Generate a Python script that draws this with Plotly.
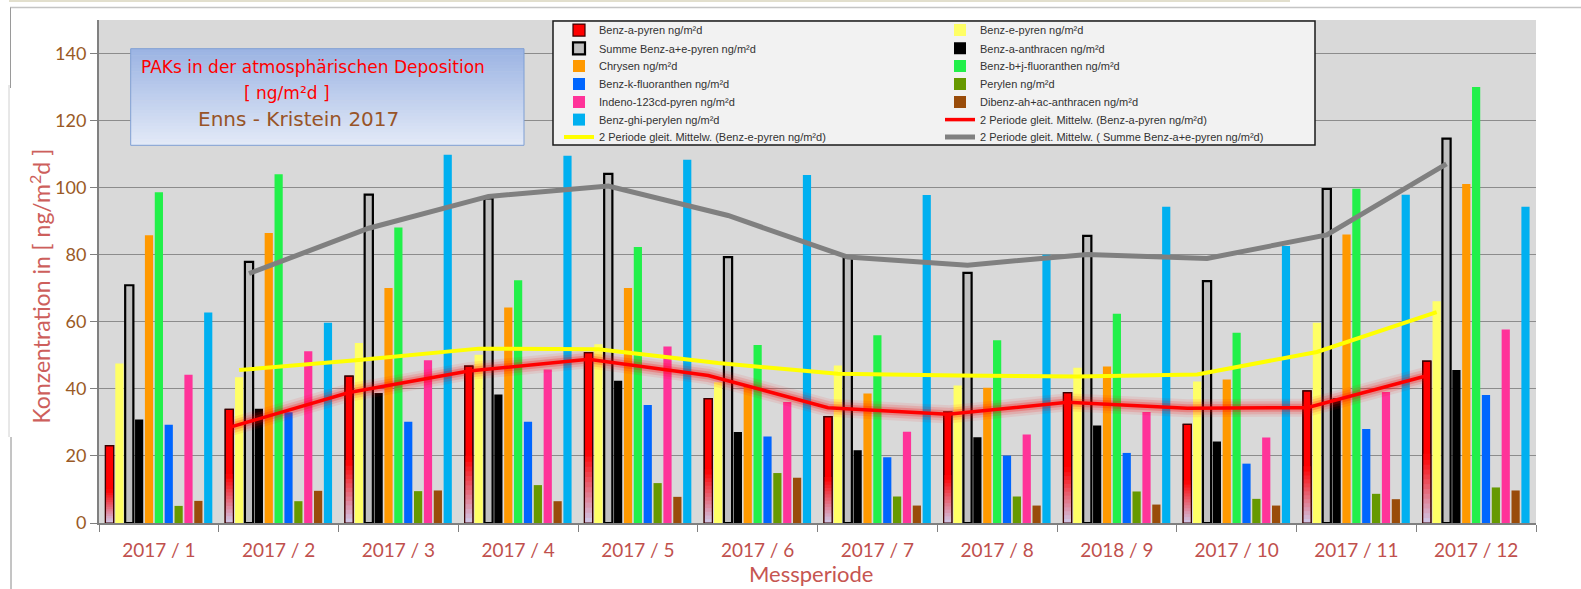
import plotly.graph_objects as go

# ---------------- data ----------------
categories = ["2017 / 1", "2017 / 2", "2017 / 3", "2017 / 4", "2017 / 5", "2017 / 6",
              "2017 / 7", "2017 / 8", "2018 / 9", "2017 / 10", "2017 / 11", "2017 / 12"]

benz_a_pyren = [23.1, 33.9, 43.8, 46.8, 50.8, 37.1, 31.7, 33.1, 38.9, 29.4, 39.4, 48.3]
benz_e_pyren = [47.6, 43.5, 53.7, 50.2, 53.3, 42.0, 47.0, 41.0, 46.3, 42.2, 59.7, 66.1]
summe_benz_a_e_pyren = [70.9, 77.9, 97.9, 96.8, 104.1, 79.3, 79.2, 74.6, 85.6, 72.1, 99.6, 114.6]
benz_a_anthracen = [30.9, 34.1, 38.8, 38.3, 42.4, 27.1, 21.7, 25.6, 29.1, 24.3, 37.2, 45.6]
chrysen = [85.8, 86.5, 70.1, 64.3, 70.1, 40.8, 38.6, 40.3, 46.7, 42.8, 86.0, 101.1]
benz_bj_fluoranthen = [98.6, 104.0, 88.1, 72.4, 82.3, 53.1, 56.0, 54.5, 62.4, 56.7, 99.7, 130.0]
benz_k_fluoranthen = [29.3, 33.0, 30.2, 30.2, 35.2, 25.8, 19.6, 20.1, 20.9, 17.7, 28.0, 38.2]
perylen = [5.1, 6.5, 9.5, 11.3, 11.9, 14.9, 7.9, 7.9, 9.4, 7.2, 8.7, 10.6]
indeno_123cd_pyren = [44.2, 51.2, 48.5, 45.8, 52.6, 36.1, 27.2, 26.4, 33.1, 25.5, 39.1, 57.7]
dibenz_ah_ac_anthracen = [6.6, 9.6, 9.7, 6.5, 7.8, 13.5, 5.2, 5.2, 5.5, 5.2, 7.1, 9.7]
benz_ghi_perylen = [62.8, 59.7, 109.8, 109.5, 108.3, 103.8, 97.8, 80.0, 94.3, 82.6, 97.9, 94.3]

# 2-period moving averages as drawn in the picture (first period has none)
ma_benz_a_pyren = [None, 28.5, 38.9, 45.3, 48.8, 44.0, 34.4, 32.4, 36.0, 34.2, 34.4, 43.9]
ma_benz_e_pyren = [None, 45.6, 48.6, 52.0, 51.8, 47.7, 44.5, 44.0, 43.7, 44.3, 51.0, 62.9]
ma_summe = [None, 74.4, 87.9, 97.4, 100.5, 91.7, 79.3, 76.9, 80.1, 78.9, 85.9, 107.1]

y_ticks = [0, 20, 40, 60, 80, 100, 120, 140]

series_names = ["Benz-a-pyren ng/m²d", "Benz-e-pyren ng/m²d", "Summe Benz-a+e-pyren ng/m²d",
                "Benz-a-anthracen ng/m²d", "Chrysen ng/m²d", "Benz-b+j-fluoranthen ng/m²d",
                "Benz-k-fluoranthen ng/m²d", "Perylen ng/m²d", "Indeno-123cd-pyren ng/m²d",
                "Dibenz-ah+ac-anthracen ng/m²d", "Benz-ghi-perylen ng/m²d"]
series_values = [benz_a_pyren, benz_e_pyren, summe_benz_a_e_pyren, benz_a_anthracen, chrysen,
                 benz_bj_fluoranthen, benz_k_fluoranthen, perylen, indeno_123cd_pyren,
                 dibenz_ah_ac_anthracen, benz_ghi_perylen]
ma_names = ["2 Periode gleit. Mittelw. (Benz-a-pyren ng/m²d)",
            "2 Periode gleit. Mittelw. (Benz-e-pyren ng/m²d)",
            "2 Periode gleit. Mittelw. ( Summe Benz-a+e-pyren ng/m²d)"]

# ---------------- styles ----------------
series_colors = ["#ff0000", "#ffff66", "#c0c0c0", "#000000", "#ff9900", "#22f04a",
                 "#0066ff", "#669900", "#ff3399", "#994c0a", "#00b0f0"]

W, H = 1581, 589
L, R, T, B = 99, 1536, 20, 523
PW, PH = R - L, B - T
CAT_PX = PW / len(categories)
PITCH = 9.87 / CAT_PX
BARW = 8.2 / CAT_PX
START = -(10 * PITCH + BARW) / 2

# legend layout: two columns, seven rows (pixel positions)
LEG_COL_X = [559, 940]
LEG_ROW_Y = [30, 48.2, 66, 84, 102, 119.5, 137]
LEG_ITEM_OFF = 14.4


def px_x(px):
    return (px - L) / PW


def px_y(py):
    return (B - py) / PH


def bar_offset(k):
    return START + k * PITCH


def legend_id(i):
    return "legend" if i == 0 else "legend%d" % (i + 1)


fig = go.Figure()
n = len(categories)

for k, (name, vals) in enumerate(zip(series_names, series_values)):
    lid = legend_id(k)
    if k == 0:
        fig.add_trace(go.Bar(x=categories, y=vals, name=name, legend=lid,
                             offset=bar_offset(k), width=BARW,
                             marker=dict(color="#ff0000", line=dict(color="#3a0000", width=1.2))))
        nseg, frac = 14, 0.42
        top_c, bot_c = (255, 0, 0), (206, 202, 234)
        for s in range(nseg):
            f0, f1 = frac * s / nseg, frac * (s + 1) / nseg
            t = (s + 0.5) / nseg
            c = tuple(int(round(bot_c[i] + (top_c[i] - bot_c[i]) * t)) for i in range(3))
            fig.add_trace(go.Bar(x=categories, y=[v * (f1 - f0) + 0.4 for v in vals],
                                 base=[v * f0 for v in vals], showlegend=False,
                                 offset=bar_offset(k), width=BARW, hoverinfo="skip",
                                 marker=dict(color="rgb(%d,%d,%d)" % c, line=dict(width=0))))
        fig.add_trace(go.Bar(x=categories, y=vals, showlegend=False, hoverinfo="skip",
                             offset=bar_offset(k), width=BARW,
                             marker=dict(color="rgba(0,0,0,0)", line=dict(color="#3a0000", width=1.2))))
    elif k == 2:
        fig.add_trace(go.Bar(x=categories, y=vals, name=name, legend=lid,
                             offset=bar_offset(k), width=BARW,
                             marker=dict(color=series_colors[k], line=dict(color="#000000", width=2.2))))
    else:
        fig.add_trace(go.Bar(x=categories, y=vals, name=name, legend=lid,
                             offset=bar_offset(k), width=BARW,
                             marker=dict(color=series_colors[k], line=dict(width=0))))


def line_x(k):
    return [i + bar_offset(k) + BARW / 2 for i in range(n)]


for wdt, op in [(18, 0.08), (13, 0.13), (8, 0.22)]:
    fig.add_trace(go.Scatter(x=line_x(0), y=ma_benz_a_pyren, xaxis="x2", mode="lines",
                             showlegend=False, hoverinfo="skip", opacity=op,
                             line=dict(color="#ff0000", width=wdt)))
fig.add_trace(go.Scatter(x=line_x(0), y=ma_benz_a_pyren, xaxis="x2", mode="lines",
                         name=ma_names[0], legend=legend_id(11),
                         line=dict(color="#ff0000", width=3.5)))
fig.add_trace(go.Scatter(x=line_x(1), y=ma_benz_e_pyren, xaxis="x2", mode="lines",
                         name=ma_names[1], legend=legend_id(12),
                         line=dict(color="#ffff00", width=4)))
fig.add_trace(go.Scatter(x=line_x(2), y=ma_summe, xaxis="x2", mode="lines",
                         name=ma_names[2], legend=legend_id(13),
                         line=dict(color="#808080", width=5)))

# ---------------- decoration shapes ----------------
shapes = []
shapes.append(dict(type="rect", xref="paper", yref="paper", x0=px_x(9), x1=px_x(1290),
                   y0=px_y(0), y1=px_y(2), fillcolor="#e2dfcd", line=dict(width=0), layer="above"))
shapes.append(dict(type="line", xref="paper", yref="paper", x0=px_x(10), x1=px_x(1581),
                   y0=px_y(7.5), y1=px_y(7.5), line=dict(color="#c4c4c4", width=1.5), layer="above"))
shapes.append(dict(type="line", xref="paper", yref="paper", x0=px_x(10.5), x1=px_x(10.5),
                   y0=px_y(7.5), y1=px_y(88), line=dict(color="#9a9a9a", width=1), layer="above"))
shapes.append(dict(type="line", xref="paper", yref="paper", x0=px_x(9), x1=px_x(9),
                   y0=px_y(85), y1=px_y(437), line=dict(color="#d0d0d0", width=1), layer="above"))
shapes.append(dict(type="line", xref="paper", yref="paper", x0=px_x(11), x1=px_x(11),
                   y0=px_y(437), y1=px_y(589), line=dict(color="#8a8a8a", width=1), layer="above"))

bx0, bx1, by0, by1 = 130.7, 524, 48.7, 145.3
nstrip = 30
ctop, cbot = (156, 180, 227), (226, 233, 247)
for s in range(nstrip):
    t = s / (nstrip - 1)
    c = tuple(int(round(ctop[i] + (cbot[i] - ctop[i]) * t)) for i in range(3))
    ya = by0 + (by1 - by0) * s / nstrip
    yb = by0 + (by1 - by0) * (s + 1) / nstrip + 0.6
    shapes.append(dict(type="rect", xref="paper", yref="paper", x0=px_x(bx0), x1=px_x(bx1),
                       y0=px_y(ya), y1=px_y(min(yb, by1)), fillcolor="rgb(%d,%d,%d)" % c,
                       line=dict(width=0), layer="above"))
shapes.append(dict(type="rect", xref="paper", yref="paper", x0=px_x(bx0), x1=px_x(bx1),
                   y0=px_y(by0), y1=px_y(by1), fillcolor="rgba(0,0,0,0)",
                   line=dict(color="#7f9fd4", width=1), layer="above"))

shapes.append(dict(type="rect", xref="paper", yref="paper", x0=px_x(553), x1=px_x(1315),
                   y0=px_y(21), y1=px_y(145), fillcolor="#f2f2f2",
                   line=dict(color="#1a1a1a", width=1.5), layer="above"))

# ---------------- annotations ----------------
annotations = [
    dict(text="PAKs in der atmosphärischen Deposition", xref="paper", yref="paper",
         x=px_x(313), y=px_y(66.7), showarrow=False, xanchor="center", yanchor="middle",
         font=dict(family="DejaVu Sans", size=17, color="#ff0000")),
    dict(text="[ ng/m²d ]", xref="paper", yref="paper",
         x=px_x(287), y=px_y(92.7), showarrow=False, xanchor="center", yanchor="middle",
         font=dict(family="DejaVu Sans", size=17, color="#ff0000")),
    dict(text="Enns - Kristein 2017", xref="paper", yref="paper",
         x=px_x(298), y=px_y(119), showarrow=False, xanchor="center", yanchor="middle",
         font=dict(family="DejaVu Sans", size=20, color="#985428")),
    dict(text="Konzentration in [ ng/m<sup>2</sup>d ]", xref="paper", yref="paper",
         x=px_x(39.5), y=px_y(286), showarrow=False, textangle=-90,
         xanchor="center", yanchor="middle",
         font=dict(family="Lato, Open Sans, sans-serif", size=23, color="#cd5f5c")),
    dict(text="Messperiode", xref="paper", yref="paper",
         x=px_x(811), y=px_y(573.5), showarrow=False, xanchor="center", yanchor="middle",
         font=dict(family="Lato, Open Sans, sans-serif", size=22, color="#c65551")),
]

legend_font = dict(family="Liberation Sans, Arial, sans-serif", size=11, color="#333333")
legends = {}
for i in range(14):
    row, col = i // 2, i % 2
    legends[legend_id(i)] = dict(x=px_x(LEG_COL_X[col]), y=px_y(LEG_ROW_Y[row] - LEG_ITEM_OFF),
                                 xanchor="left", yanchor="top", bgcolor="rgba(0,0,0,0)",
                                 borderwidth=0, font=legend_font, tracegroupgap=0)

fig.update_layout(
    width=W, height=H,
    margin=dict(l=L, r=W - R, t=T, b=H - B, pad=0, autoexpand=False),
    paper_bgcolor="white", plot_bgcolor="#d9d9d9",
    barmode="overlay",
    showlegend=True,
    xaxis=dict(type="category", categoryorder="array", categoryarray=categories,
               range=[-0.5, n - 0.5], tickson="boundaries", ticks="outside", ticklen=7,
               tickcolor="#808080", tickwidth=1, showline=True, linecolor="#808080",
               linewidth=2, showgrid=False, ticklabelstandoff=9, tickangle=0,
               automargin=False,
               tickfont=dict(family="Lato, Open Sans, sans-serif", size=19, color="#c0504d")),
    xaxis2=dict(overlaying="x", range=[-0.5, n - 0.5], visible=False, showgrid=False),
    yaxis=dict(range=[0, 150], tickmode="array", tickvals=y_ticks, showgrid=True,
               gridcolor="#8c8c8c", gridwidth=1, showline=True, linecolor="#808080",
               linewidth=2, ticks="outside", ticklen=7, tickcolor="#808080", zeroline=False,
               ticklabelstandoff=0, automargin=False,
               tickfont=dict(family="Lato, Open Sans, sans-serif", size=18, color="#9a5a26")),
    shapes=shapes,
    annotations=annotations,
    **legends,
)

fig.write_html("out.html", config={"displayModeBar": False},
               post_script="document.body.style.margin='0';")
